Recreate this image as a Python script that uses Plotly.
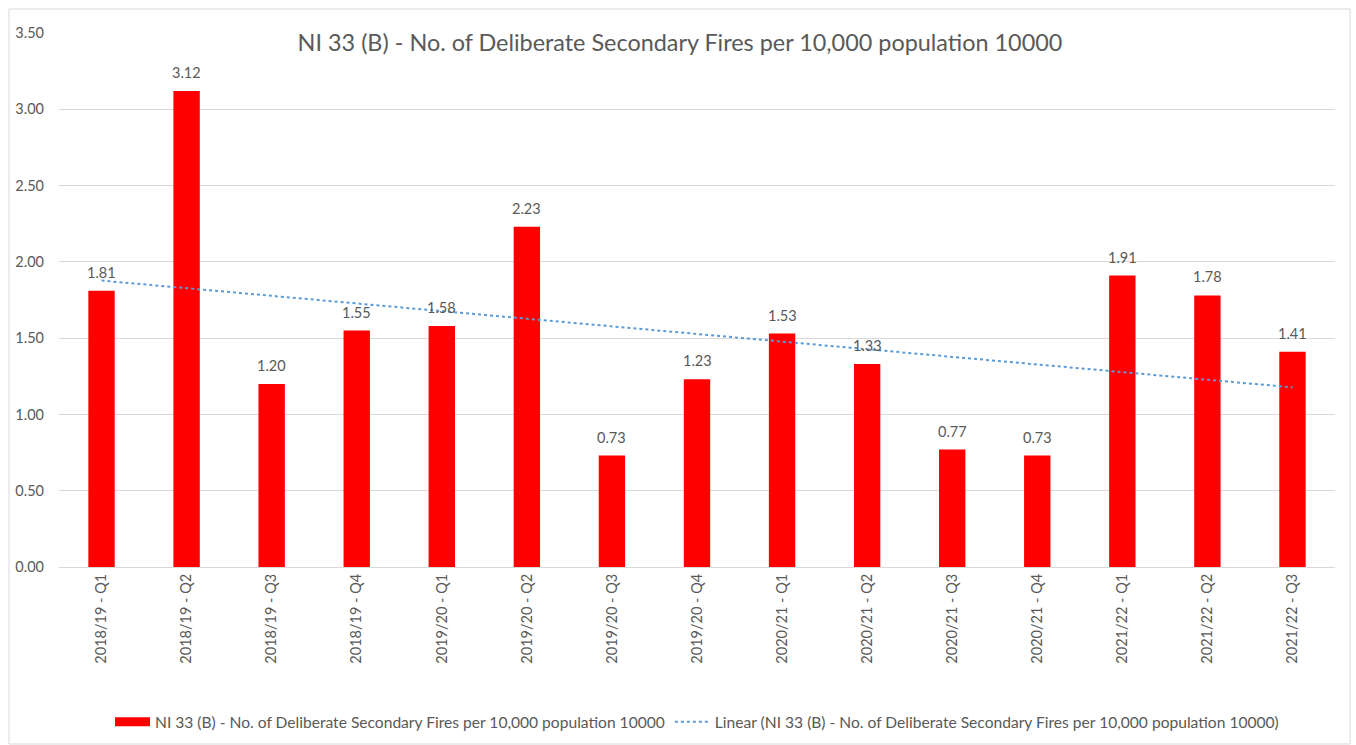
import numpy as np
import plotly.graph_objects as go

categories = ["2018/19 - Q1", "2018/19 - Q2", "2018/19 - Q3", "2018/19 - Q4",
              "2019/20 - Q1", "2019/20 - Q2", "2019/20 - Q3", "2019/20 - Q4",
              "2020/21 - Q1", "2020/21 - Q2", "2020/21 - Q3", "2020/21 - Q4",
              "2021/22 - Q1", "2021/22 - Q2", "2021/22 - Q3"]
values = [1.81, 3.12, 1.20, 1.55, 1.58, 2.23, 0.73, 1.23, 1.53, 1.33, 0.77, 0.73, 1.91, 1.78, 1.41]
series_name = "NI 33 (B) - No. of Deliberate Secondary Fires per 10,000 population 10000"
y_ticks = [0, 0.5, 1.0, 1.5, 2.0, 2.5, 3.0, 3.5]

# Linear trendline (least squares fit, as in the spreadsheet trendline)
xs = np.arange(1, len(values) + 1)
slope, intercept = np.polyfit(xs, values, 1)
trend = slope * xs + intercept

FONT = "Lato, Carlito, 'Liberation Sans', sans-serif"
TXT = "#595959"

fig = go.Figure()
fig.add_trace(go.Bar(
    x=categories, y=values, name=series_name, showlegend=False,
    marker=dict(color="#ff0000", line=dict(width=0)),
    width=0.31,
))
# legend entry for the bar series (wide red swatch as in the original)
fig.add_trace(go.Scatter(
    x=[None], y=[None], mode="lines", name=series_name,
    line=dict(color="#ff0000", width=9),
))
fig.add_trace(go.Scatter(
    x=categories, y=trend, mode="lines",
    name="Linear (" + series_name + ")",
    line=dict(color="#5b9bd5", width=2, dash="dot"),
))

# data labels
for c, v in zip(categories, values):
    fig.add_annotation(x=c, y=v, text=f"{v:.2f}", showarrow=False,
                       yanchor="bottom", yshift=8,
                       font=dict(size=14.5, color=TXT, family=FONT))

L, R, T, B = 59, 21, 33, 178
W, H = 1356, 745
pw, ph = W - L - R, H - T - B

fig.update_layout(
    width=W, height=H,
    margin=dict(l=L, r=R, t=T, b=B),
    paper_bgcolor="white", plot_bgcolor="white",
    font=dict(family=FONT, color=TXT, size=14.5),
    title=dict(text="NI 33 (B) - No. of Deliberate Secondary Fires per 10,000 population 10000",
               x=(680) / W, xanchor="center", y=1 - 43 / H, yanchor="middle",
               font=dict(size=23.4, color=TXT, family=FONT)),
    showlegend=True,
    legend=dict(orientation="h", x=0.5, xanchor="center",
                yref="container", y=1 - 722 / H, yanchor="middle",
                font=dict(size=15.6, color=TXT, family=FONT), traceorder="normal",
                itemwidth=35),
    shapes=[dict(type="rect", xref="paper", yref="paper",
                 x0=(9 - L) / pw, x1=(1350 - L) / pw,
                 y0=-(H - 567 - 1) / ph, y1=(567 - 9) / ph,
                 line=dict(color="#d9d9d9", width=1), fillcolor="rgba(0,0,0,0)", layer="below")],
)
fig.update_xaxes(
    tickangle=-90, showgrid=False, showline=True, linecolor="#d9d9d9", linewidth=1,
    tickfont=dict(size=14.5, color=TXT), ticks="", automargin=False,
)
fig.update_yaxes(
    range=[0, 3.5], tickvals=y_ticks, ticktext=[f"{v:.2f}" for v in y_ticks],
    showgrid=True, gridcolor="#d9d9d9", gridwidth=1, zeroline=False,
    showline=False, ticks="", tickfont=dict(size=14.5, color=TXT), automargin=False,
    ticklabelstandoff=14,
)

fig.write_html("out.html", config={"displayModeBar": False},
               post_script="document.body.style.margin='0';document.body.style.overflow='hidden';")
